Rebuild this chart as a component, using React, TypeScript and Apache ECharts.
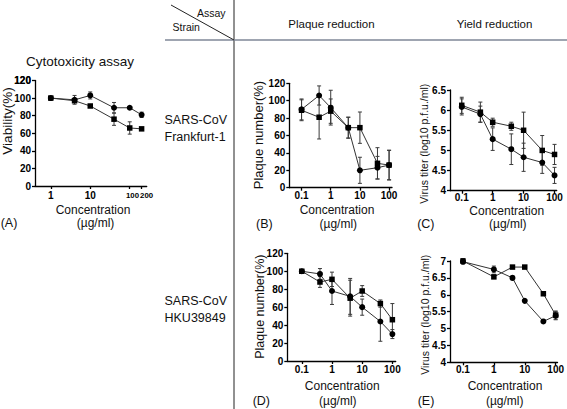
import React, { useEffect, useRef } from 'react';
import * as echarts from 'echarts';

const FONT = '"Liberation Sans", Arial, Helvetica, sans-serif';

// ---- Panel A: cytotoxicity (Viability %) ----
const concA = [1, 4, 10, 40, 100, 200];
const viabCircle = [100, 98, 103, 89, 89, 81];
const viabCircleErr = [0, 5, 4, 6, 0, 3];
const viabSquare = [100, 97, 91, 76, 66, 65];
const viabSquareErr = [0, 0, 0, 7, 7, 0];
const xTicksA = [1, 10, 100, 200];

// ---- Panel B: plaque reduction, Frankfurt-1 ----
const concB = [0.1, 0.4, 1, 4, 10, 40, 100];
const plaqueFCircle = [90, 106, 92, 69, 20, 23, 26];
const plaqueFCircleErr = [12, 11, 20, 12, 15, 13, 17];
const plaqueFSquare = [89, 81, 88, 69, 69, 28, 26];
const plaqueFSquareErr = [12, 25, 14, 12, 18, 18, 17];

// ---- Panel C: yield reduction, Frankfurt-1 ----
const concC = [0.1, 0.4, 1, 4, 10, 40, 100];
const titerFSquare = [6.12, 5.95, 5.7, 5.6, 5.5, 5.0, 4.9];
const titerFSquareErr = [0.2, 0.25, 0.1, 0.1, 0.45, 0.37, 0.25];
const titerFCircle = [6.08, 5.9, 5.28, 5.03, 4.83, 4.7, 4.38];
const titerFCircleErr = [0.2, 0.2, 0.28, 0.38, 0.35, 0.27, 0.2];

// ---- Panel D: plaque reduction, HKU39849 ----
const concD = [0.1, 0.4, 1, 4, 10, 40, 100];
const plaqueHSquare = [100, 88, 91, 70, 78, 64, 46];
const plaqueHSquareErr = [0, 6, 8, 20, 6, 4, 18];
const plaqueHCircle = [100, 97, 78, 72, 60, 44, 30];
const plaqueHCircleErr = [0, 6, 15, 20, 9, 22, 5];

// ---- Panel E: yield reduction, HKU39849 ----
const concE = [0.1, 1, 4, 10, 40, 100];
const titerHSquare = [7.0, 6.53, 6.82, 6.82, 6.03, 5.4];
const titerHSquareErr = [0.07, 0.05, 0, 0, 0.05, 0.12];
const titerHCircle = [6.98, 6.75, 6.5, 5.82, 5.21, 5.38];
const titerHCircleErr = [0.07, 0.1, 0.06, 0, 0.04, 0.12];

const xTicksSub = [0.1, 1, 10, 100];
const yTicksPct = [0, 20, 40, 60, 80, 100, 120];
const yTicksTiterF = [4, 4.5, 5, 5.5, 6, 6.5];
const yTicksTiterH = [4, 4.5, 5, 5.5, 6, 6.5, 7];

type Panel = {
  grid: { left: number; top: number; width: number; height: number };
  xMin: number; xMax: number; xTicks: number[]; xLabelShift?: number[]; xMargin: number;
  yTicks: number[];
  conc: number[];
  series: [number[], number[], string][];
};

const panels: Panel[] = [
  { grid: { left: 35, top: 80.5, width: 111.7, height: 105.5 }, xMin: -0.4, xMax: 2.43, xTicks: xTicksA,
    xLabelShift: [0, 0, 0.07, 0.125], xMargin: 4,
    yTicks: yTicksPct, conc: concA,
    series: [[viabCircle, viabCircleErr, 'circle'], [viabSquare, viabSquareErr, 'rect']] },
  { grid: { left: 289.3, top: 83.3, width: 102.7, height: 104.4 }, xMin: -1.42, xMax: 2.1, xTicks: xTicksSub,
    xMargin: 3, yTicks: yTicksPct, conc: concB,
    series: [[plaqueFCircle, plaqueFCircleErr, 'circle'], [plaqueFSquare, plaqueFSquareErr, 'rect']] },
  { grid: { left: 450, top: 90, width: 106.7, height: 100.7 }, xMin: -1.38, xMax: 2.07, xTicks: xTicksSub,
    xMargin: 1.5, yTicks: yTicksTiterF, conc: concC,
    series: [[titerFSquare, titerFSquareErr, 'rect'], [titerFCircle, titerFCircleErr, 'circle']] },
  { grid: { left: 287.3, top: 253.3, width: 108.4, height: 107.7 }, xMin: -1.48, xMax: 2.11, xTicks: xTicksSub,
    xMargin: 3, yTicks: yTicksPct, conc: concD,
    series: [[plaqueHSquare, plaqueHSquareErr, 'rect'], [plaqueHCircle, plaqueHCircleErr, 'circle']] },
  { grid: { left: 450, top: 261, width: 109.3, height: 101.3 }, xMin: -1.42, xMax: 2.06, xTicks: xTicksSub,
    xMargin: 2, yTicks: yTicksTiterH, conc: concE,
    series: [[titerHSquare, titerHSquareErr, 'rect'], [titerHCircle, titerHCircleErr, 'circle']] },
];

const axisLineStyle = { color: '#000', width: 1.3 };
const tickLabel = { fontSize: 10, fontWeight: 'bold' as const, color: '#000', fontFamily: FONT };

function errRender(params: any, api: any) {
  const x = api.value(0), lo = api.value(1), hi = api.value(2);
  const a = api.coord([x, hi]);
  const b = api.coord([x, lo]);
  const style = { stroke: '#3a3a3a', lineWidth: 1 };
  return {
    type: 'group',
    children: [
      { type: 'line', shape: { x1: a[0], y1: a[1], x2: b[0], y2: b[1] }, style },
      { type: 'line', shape: { x1: a[0] - 2, y1: a[1], x2: a[0] + 2, y2: a[1] }, style },
      { type: 'line', shape: { x1: b[0] - 2, y1: b[1], x2: b[0] + 2, y2: b[1] }, style },
    ],
  };
}

function txt(text: string, x: number, y: number, size: number, align: string = 'center', rotation = 0, bold = false) {
  return {
    type: 'text', x, y, rotation, silent: true,
    style: {
      text, fontSize: size, fontFamily: FONT, fill: bold ? '#000' : '#111', align, verticalAlign: 'middle',
      fontWeight: bold ? 'bold' : 'normal',
    },
  };
}

function line(x1: number, y1: number, x2: number, y2: number, stroke: string, lineWidth: number) {
  return { type: 'line', silent: true, shape: { x1, y1, x2, y2 }, style: { stroke, lineWidth } };
}

export default function App() {
  const ref = useRef<HTMLDivElement>(null);
  useEffect(() => {
    if (!ref.current) return;
    const chart = echarts.init(ref.current, undefined, { renderer: 'svg' });

    const grid = panels.map((p) => ({ ...p.grid, containLabel: false }));
    const xAxis = panels.map((p, i) => {
      const tickVals = p.xTicks.map((t) => Math.log10(t));
      const shift = p.xLabelShift || p.xTicks.map(() => 0);
      const labelVals = tickVals.map((v, k) => v + shift[k]);
      const fmt = (v: number) => {
        const k = labelVals.findIndex((lv) => Math.abs(lv - v) < 1e-6);
        if (k < 0) return '';
        const s = String(p.xTicks[k]);
        return shift[k] ? '{s|' + s + '}' : s;
      };
      return {
        type: 'value', gridIndex: i, min: p.xMin, max: p.xMax,
        axisLine: { show: true, onZero: false, lineStyle: axisLineStyle },
        axisTick: { show: true, length: 3, lineStyle: axisLineStyle, customValues: tickVals },
        axisLabel: {
          ...tickLabel, margin: p.xMargin, customValues: labelVals, formatter: fmt,
          showMinLabel: true, showMaxLabel: true, hideOverlap: false,
          rich: { s: { fontSize: 7.8, fontWeight: 'bold', fontFamily: FONT, color: '#000', lineHeight: 10 } },
        },
        splitLine: { show: false },
      };
    });
    const yAxis = panels.map((p, i) => ({
      type: 'value', gridIndex: i,
      min: p.yTicks[0], max: p.yTicks[p.yTicks.length - 1],
      axisLine: { show: true, onZero: false, lineStyle: axisLineStyle },
      axisTick: { show: true, length: 3, lineStyle: axisLineStyle, customValues: p.yTicks },
      axisLabel: {
        ...tickLabel, margin: 4, customValues: p.yTicks, lineHeight: 11,
        showMinLabel: true, showMaxLabel: true, hideOverlap: false,
      },
      splitLine: { show: false },
    }));

    const series: any[] = [];
    panels.forEach((p, i) => {
      p.series.forEach(([vals, errs, sym]) => {
        series.push({
          type: 'custom', xAxisIndex: i, yAxisIndex: i, silent: true, z: 2,
          renderItem: errRender,
          data: p.conc
            .map((c, k) => [Math.log10(c), vals[k] - errs[k], vals[k] + errs[k], errs[k]])
            .filter((d) => d[3] > 0),
        });
        series.push({
          type: 'line', xAxisIndex: i, yAxisIndex: i, silent: true, z: 3,
          data: p.conc.map((c, k) => [Math.log10(c), vals[k]]),
          symbol: sym, symbolSize: sym === 'rect' ? 5.5 : 6, showSymbol: true,
          itemStyle: { color: '#000' },
          lineStyle: { color: '#333', width: 1 },
        });
      });
    });

    const gA = panels[0].grid;
    const graphic: any[] = [
      // table lines
      line(234, 0, 234, 409, '#222', 1),
      line(165, 40, 567, 40, '#7f8797', 1.5),
      line(171, 5, 234, 40, '#222', 1),
      txt('Assay', 197, 12.5, 10.5, 'left'),
      txt('Strain', 172.5, 27, 10.5, 'left'),
      txt('Plaque reduction', 331.5, 23.5, 11.5),
      txt('Yield reduction', 494.5, 23.5, 11.5),
      txt('SARS-CoV', 164.5, 120, 12.5, 'left'),
      txt('Frankfurt-1', 164.5, 137, 12.5, 'left'),
      txt('SARS-CoV', 164.5, 301, 12.5, 'left'),
      txt('HKU39849', 164.5, 317.5, 12.5, 'left'),
      // panel A (top y label, which the axis drops)
      txt(String(yTicksPct[yTicksPct.length - 1]), gA.left - 4, gA.top, 10, 'right', 0, true),
      txt('Viability(%)', 7, 121, 13.5, 'center', Math.PI / 2),
      txt('Concentration', 93, 210, 12),
      txt('(µg/ml)', 95.5, 223, 12),
      txt('(A)', 9, 223, 12.5),
      // panel B
      txt('Plaque number(%)', 258, 135, 13, 'center', Math.PI / 2),
      txt('Concentration', 337, 209.5, 12),
      txt('(µg/ml)', 338.3, 223.5, 12),
      txt('(B)', 264.3, 223.5, 12.5),
      // panel C
      txt('Virus titer (log10 p.f.u./ml)', 423.7, 143.7, 10.5, 'center', Math.PI / 2),
      txt('Concentration', 506.7, 210.5, 12),
      txt('(µg/ml)', 507.8, 224.3, 12),
      txt('(C)', 425.8, 224.3, 12.5),
      // panel D
      txt('Plaque number(%)', 260, 306.7, 12.5, 'center', Math.PI / 2),
      txt('Concentration', 342.2, 385.8, 12),
      txt('(µg/ml)', 337.8, 400.7, 12),
      txt('(D)', 261.3, 400.7, 12.5),
      // panel E
      txt('Virus titer (log10 p.f.u./ml)', 425.2, 314.7, 10.5, 'center', Math.PI / 2),
      txt('Concentration', 505, 385.5, 12),
      txt('(µg/ml)', 504.7, 400.7, 12),
      txt('(E)', 426, 400.7, 12.5),
    ];

    chart.setOption({
      animation: false,
      backgroundColor: '#fff',
      title: {
        text: 'Cytotoxicity assay', left: 80, top: 54, textAlign: 'center',
        padding: 0, textStyle: { fontSize: 13.5, fontWeight: 'normal', fontFamily: FONT, color: '#111' },
      },
      grid, xAxis, yAxis, series, graphic,
    });
    return () => chart.dispose();
  }, []);

  return (
    <div
      ref={ref}
      style={{ position: 'fixed', left: 0, top: 0, width: 567, height: 409, background: '#fff' }}
    />
  );
}
